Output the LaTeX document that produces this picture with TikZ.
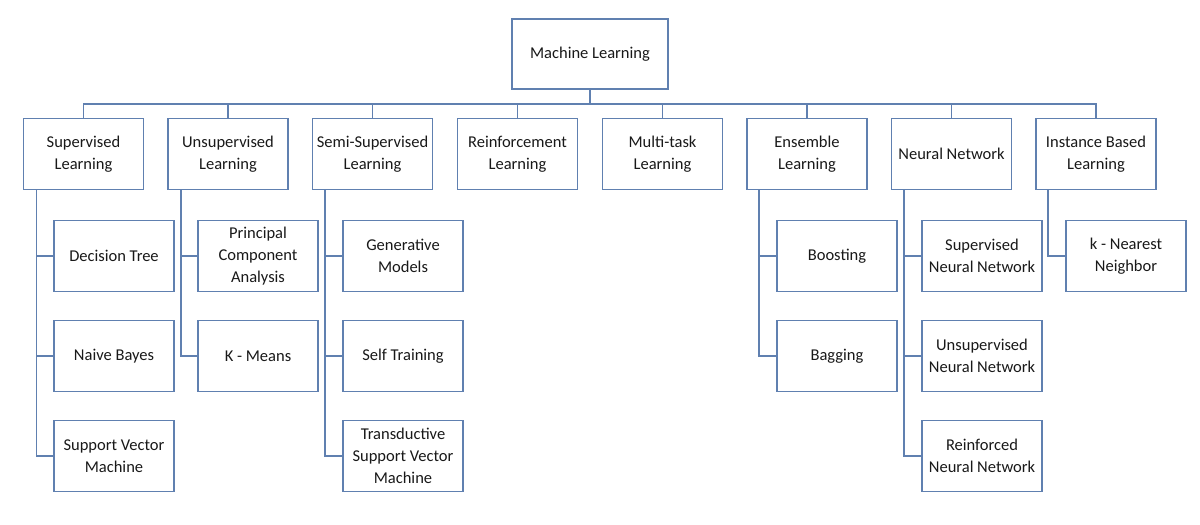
\documentclass[tikz,border=0pt]{standalone}
\usepackage{fontspec}
\setmainfont{Carlito}
\definecolor{linec}{RGB}{96,128,176}
\definecolor{txt}{RGB}{25,25,25}
\begin{document}
\begin{tikzpicture}[x=1pt,y=-1pt,
  box/.style={draw=linec,line width=1.6pt,rectangle,minimum width=120pt,minimum height=71pt,
    inner sep=2pt,align=center,text=txt,font=\fontsize{16.5}{22}\selectfont},
  conn/.style={draw=linec,line width=1.6pt}]
\useasboundingbox (0,0) rectangle (1200,525);
\fill[white] (0,0) rectangle (1200,525);
% root
\node[box,minimum width=156pt,minimum height=70pt] (ml) at (590,54) {Machine Learning};
% level 1
\node[box] (sup) at (83.5,154) {Supervised\\Learning};
\node[box] (uns) at (228,154) {Unsupervised\\Learning};
\node[box] (semi) at (372.5,154) {Semi-Supervised\\Learning};
\node[box] (rl) at (517.5,154) {Reinforcement\\Learning};
\node[box] (mt) at (662.5,154) {Multi-task\\Learning};
\node[box] (ens) at (807,154) {Ensemble\\Learning};
\node[box] (nn) at (951.5,154) {Neural Network};
\node[box] (ibl) at (1096,154) {Instance Based\\Learning};
% level 2
\node[box] (dt) at (114,256) {Decision Tree};
\node[box] (nb) at (114,356) {Naive Bayes};
\node[box] (svm) at (114,456) {Support Vector\\Machine};
\node[box] (pca) at (258,256) {Principal\\Component\\Analysis};
\node[box] (km) at (258,356) {K - Means};
\node[box] (gm) at (403,256) {Generative\\Models};
\node[box] (st) at (403,356) {Self Training};
\node[box] (tsvm) at (403,456) {Transductive\\Support Vector\\Machine};
\node[box] (boost) at (837,256) {Boosting};
\node[box] (bag) at (837,356) {Bagging};
\node[box] (snn) at (982,256) {Supervised\\Neural Network};
\node[box] (unn) at (982,356) {Unsupervised\\Neural Network};
\node[box] (rnn) at (982,456) {Reinforced\\Neural Network};
\node[box] (knn) at (1126,256) {k - Nearest\\Neighbor};
% bus
\coordinate (bus) at (590,104);
\draw[conn] (ml.south) -- (bus);
\draw[conn] (sup.north) -- (sup.north |- bus) -- (ibl.north |- bus) -- (ibl.north);
\foreach \n in {uns,semi,rl,mt,ens,nn}{
  \draw[conn] (\n.north) -- (\n.north |- bus);
}
% trunks
\coordinate (tsup) at (36.5,0);
\coordinate (tuns) at (181,0);
\coordinate (tsemi) at (325,0);
\coordinate (tens) at (759,0);
\coordinate (tnn) at (904,0);
\coordinate (tibl) at (1048,0);
\draw[conn] (sup.south -| tsup) |- (svm.west);
\draw[conn] (tsup |- dt.west) -- (dt.west);
\draw[conn] (tsup |- nb.west) -- (nb.west);
\draw[conn] (uns.south -| tuns) |- (km.west);
\draw[conn] (tuns |- pca.west) -- (pca.west);
\draw[conn] (semi.south -| tsemi) |- (tsvm.west);
\draw[conn] (tsemi |- gm.west) -- (gm.west);
\draw[conn] (tsemi |- st.west) -- (st.west);
\draw[conn] (ens.south -| tens) |- (bag.west);
\draw[conn] (tens |- boost.west) -- (boost.west);
\draw[conn] (nn.south -| tnn) |- (rnn.west);
\draw[conn] (tnn |- snn.west) -- (snn.west);
\draw[conn] (tnn |- unn.west) -- (unn.west);
\draw[conn] (ibl.south -| tibl) |- (knn.west);
\end{tikzpicture}
\end{document}
